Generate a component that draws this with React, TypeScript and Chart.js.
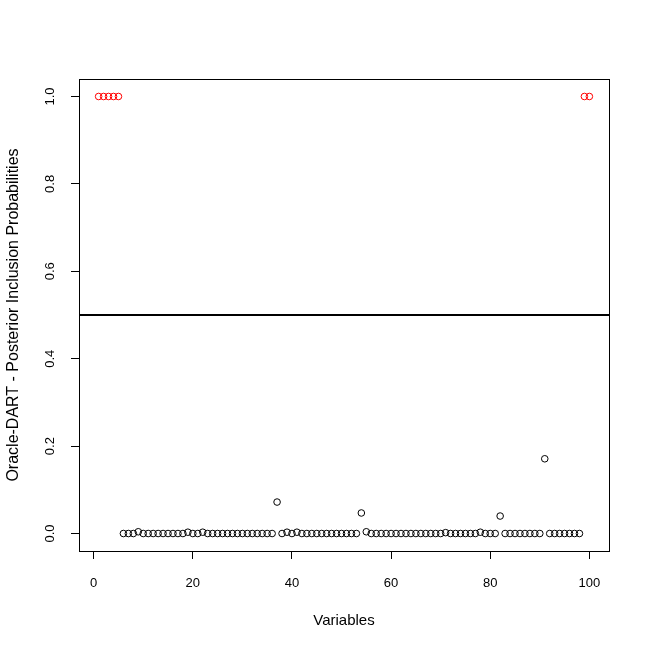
import React, { useEffect, useRef } from "react";
import { Chart, registerables } from "chart.js";

Chart.register(...registerables);

// Variable indices 1..100
const variables: number[] = Array.from({ length: 100 }, (_, i) => i + 1);

// Posterior inclusion probabilities
const probs: number[] = [
  1, 1, 1, 1, 1, 0, 0, 0, 0.004, 0,
  0, 0, 0, 0, 0, 0, 0, 0, 0.003, 0,
  0, 0.003, 0, 0, 0, 0, 0, 0, 0, 0,
  0, 0, 0, 0, 0, 0, 0.072, 0, 0.003, 0,
  0.003, 0, 0, 0, 0, 0, 0, 0, 0, 0,
  0, 0, 0, 0.047, 0.004, 0, 0, 0, 0, 0,
  0, 0, 0, 0, 0, 0, 0, 0, 0, 0,
  0.002, 0, 0, 0, 0, 0, 0, 0.003, 0, 0,
  0, 0.04, 0, 0, 0, 0, 0, 0, 0, 0,
  0.171, 0, 0, 0, 0, 0, 0, 0, 1, 1,
];

const xTicks: number[] = [0, 20, 40, 60, 80, 100];
const yTicks: number[] = [0, 0.2, 0.4, 0.6, 0.8, 1.0];
const threshold = 0.5;
const xLabel = "Variables";
const yLabel = "Oracle-DART - Posterior Inclusion Probabilities";

const FONT = "'Liberation Sans', Arial, sans-serif";

export default function App() {
  const ref = useRef<HTMLCanvasElement | null>(null);

  useEffect(() => {
    if (!ref.current) return;
    const xMin = 1 - 0.04 * 99;
    const xMax = 100 + 0.04 * 99;
    const yMin = -0.04;
    const yMax = 1.04;

    const boxPlugin = {
      id: "boxAndLine",
      afterDatasetsDraw(chart: any) {
        const { ctx, chartArea } = chart;
        const y = chart.scales.y.getPixelForValue(threshold);
        ctx.save();
        ctx.beginPath();
        ctx.rect(chartArea.left, chartArea.top, chartArea.right - chartArea.left, chartArea.bottom - chartArea.top);
        ctx.clip();
        ctx.strokeStyle = "#000";
        ctx.lineWidth = 2;
        ctx.beginPath();
        ctx.moveTo(chartArea.left, Math.round(y));
        ctx.lineTo(chartArea.right, Math.round(y));
        ctx.stroke();
        ctx.restore();
        ctx.save();
        ctx.strokeStyle = "#000";
        ctx.lineWidth = 1;
        ctx.strokeRect(
          Math.round(chartArea.left) + 0.5,
          Math.round(chartArea.top) + 0.5,
          Math.round(chartArea.right - chartArea.left),
          Math.round(chartArea.bottom - chartArea.top)
        );
        ctx.restore();
      },
    };

    const chart = new Chart(ref.current, {
      type: "scatter",
      data: {
        datasets: [
          {
            data: variables.map((v, i) => ({ x: v, y: probs[i] })),
            pointStyle: "circle",
            pointRadius: 3.3,
            pointBorderWidth: 1,
            pointBackgroundColor: "rgba(0,0,0,0)",
            pointBorderColor: (c: any) => (probs[c.dataIndex] > threshold ? "#ff0000" : "#000000"),
            pointHoverRadius: 3.3,
          },
        ],
      },
      options: {
        animation: false,
        responsive: false,
        maintainAspectRatio: false,
        events: [],
        layout: { padding: { left: 0, top: 79, right: 41, bottom: 0 } },
        plugins: {
          legend: { display: false },
          tooltip: { enabled: false },
        },
        scales: {
          x: {
            type: "linear",
            min: xMin,
            max: xMax,
            afterBuildTicks: (scale: any) => {
              scale.ticks = xTicks.map((v) => ({ value: v }));
            },
            afterFit: (scale: any) => {
              scale.height = 99;
            },
            grid: { display: true, drawOnChartArea: false, drawTicks: true, tickLength: 8, color: "#000", lineWidth: 1 },
            border: { display: true, color: "#000", width: 1 },
            ticks: {
              color: "#000",
              font: { family: FONT, size: 13 },
              padding: 17,
              maxRotation: 0,
              minRotation: 0,
              callback: (v: any) => String(v),
            },
            title: {
              display: true,
              text: xLabel,
              color: "#000",
              font: { family: FONT, size: 15 },
              padding: { top: 0, bottom: 20 },
            },
          },
          y: {
            type: "linear",
            min: yMin,
            max: yMax,
            afterBuildTicks: (scale: any) => {
              scale.ticks = yTicks.map((v) => ({ value: v }));
            },
            afterFit: (scale: any) => {
              scale.width = 79;
            },
            grid: { display: true, drawOnChartArea: false, drawTicks: true, tickLength: 8, color: "#000", lineWidth: 1 },
            border: { display: true, color: "#000", width: 1 },
            ticks: {
              color: "#000",
              font: { family: FONT, size: 13 },
              padding: 12,
              minRotation: 90,
              maxRotation: 90,
              crossAlign: "center",
              callback: (v: any) => Number(v).toFixed(1),
            },
            title: {
              display: true,
              text: yLabel,
              color: "#000",
              font: { family: FONT, size: 16 },
              padding: { top: 4, bottom: 0 },
            },
          },
        },
      },
      plugins: [boxPlugin],
    } as any);
    return () => chart.destroy();
  }, []);

  return (
    <div style={{ position: "fixed", left: 0, top: 0, width: 650, height: 650, background: "#fff" }}>
      <canvas ref={ref} width={650} height={650} style={{ width: 650, height: 650, display: "block" }} />
    </div>
  );
}
